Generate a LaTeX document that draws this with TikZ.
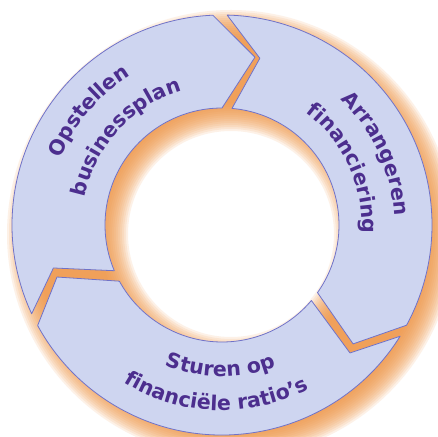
\documentclass[tikz,border=0pt]{standalone}
\usepackage{fontspec}
\newfontfamily\ringfont{DejaVu Sans}
\usetikzlibrary{calc,decorations.text}
\definecolor{segfill}{RGB}{206,213,240}
\definecolor{segline}{RGB}{112,114,200}
\definecolor{txtcol}{RGB}{76,46,142}
\definecolor{glow}{RGB}{240,150,70}
\newcommand{\ringtxt}{\ringfont\bfseries\fontsize{20.5}{24}\selectfont}
\tikzset{
  seg/.style={fill=segfill, draw=segline, line width=0.8pt, line join=round},
  ringlabel/.style={decorate, decoration={text along path, text align=center, text color=txtcol}}
}
\begin{document}
\begin{tikzpicture}[x=1pt,y=1pt]
\useasboundingbox (0,0) rectangle (438,436);
\fill[white] (0,0) rectangle (438,436);
\clip (0,0) rectangle (438,436);
\coordinate (C) at (222,211);
\coordinate (S) at ($(C)+(9,-9)$);
% soft orange shadow
\foreach \t in {-14,-12,...,14}{
  \fill[glow, opacity=0.13, even odd rule] (S) circle[radius=210+\t] circle[radius=117-\t];
}
% Opstellen businessplan
\draw[seg] ($(C)+(205:210)$) arc[start angle=205, end angle=92.5, radius=210]
  -- ($(C)+(78.9:171)$) -- ($(C)+(90:117)$)
  arc[start angle=90, end angle=203, radius=117]
  -- ($(C)+(194.3:174)$) -- cycle;
% Arrangeren financiering
\draw[seg] ($(C)+(88.6:210)$) arc[start angle=88.6, end angle=-28.5, radius=210]
  -- ($(C)+(-42.2:177)$) -- ($(C)+(-35.3:117)$)
  arc[start angle=-35.3, end angle=85.1, radius=117]
  -- ($(C)+(77.2:171)$) -- cycle;
% Sturen op financiele ratio's
\draw[seg] ($(C)+(-32:210)$) arc[start angle=-32, end angle=-151.4, radius=210]
  -- ($(C)+(-162.5:173)$) -- ($(C)+(-151.3:117)$)
  arc[start angle=-151.3, end angle=-40.2, radius=117]
  -- ($(C)+(-45:181)$) -- cycle;
% labels
\path[ringlabel, decoration={text={|\ringtxt|Opstellen}}]
  ($(C)+(189.5:175)$) arc[start angle=189.5, end angle=89.5, radius=175];
\path[ringlabel, decoration={text={|\ringtxt|businessplan}}]
  ($(C)+(187.5:140)$) arc[start angle=187.5, end angle=87.5, radius=140];
\path[ringlabel, decoration={text={|\ringtxt|Arrangeren}}]
  ($(C)+(74.7:172.5)$) arc[start angle=74.7, end angle=-25.3, radius=172.5];
\path[ringlabel, decoration={text={|\ringtxt|financiering}}]
  ($(C)+(74.9:140)$) arc[start angle=74.9, end angle=-25.1, radius=140];
\path[ringlabel, decoration={text={|\ringtxt|Sturen op}}]
  ($(C)+(-140.6:151.5)$) arc[start angle=-140.6, end angle=-40.6, radius=151.5];
\path[ringlabel, decoration={text={|\ringtxt|financiële ratio’s}}]
  ($(C)+(-142:185.5)$) arc[start angle=-142, end angle=-42, radius=185.5];
\end{tikzpicture}
\end{document}
